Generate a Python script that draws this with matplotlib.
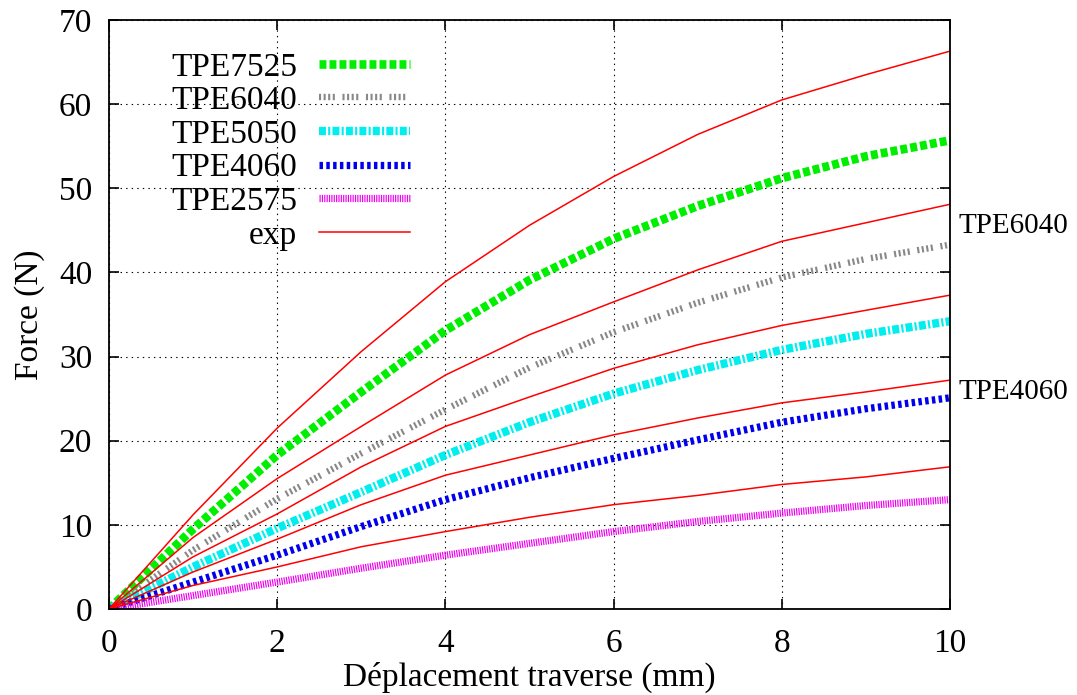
import matplotlib
matplotlib.use("Agg")
import matplotlib.pyplot as plt

plt.rcParams['font.family'] = ['Liberation Serif', 'DejaVu Serif']
plt.rcParams['lines.scale_dashes'] = False

x = [0, 1, 2, 3, 4, 5, 6, 7, 8, 9, 10]

tpe7525 = [0, 9.5, 18.3, 25.8, 33.1, 39.1, 44.0, 47.9, 51.2, 53.8, 55.7]
tpe6040 = [0, 7.0, 13.1, 18.5, 23.7, 28.7, 32.9, 36.4, 39.4, 41.6, 43.3]
tpe5050 = [0, 5.0, 9.6, 13.9, 18.3, 22.2, 25.6, 28.4, 30.8, 32.7, 34.2]
tpe4060 = [0, 3.2, 6.4, 9.8, 13.0, 15.6, 17.9, 20.1, 22.2, 23.8, 25.1]
tpe2575 = [0, 1.6, 3.2, 4.85, 6.4, 7.8, 9.2, 10.4, 11.4, 12.3, 13.0]

exp1 = [0, 11.2, 21.5, 30.6, 38.9, 45.6, 51.4, 56.4, 60.5, 63.5, 66.3]
exp2 = [0, 8.5, 15.5, 21.7, 27.8, 32.6, 36.5, 40.3, 43.7, 45.9, 48.1]
exp3 = [0, 6.2, 11.3, 16.9, 21.7, 25.2, 28.6, 31.4, 33.7, 35.5, 37.3]
exp4 = [0, 4.4, 8.3, 12.4, 15.9, 18.3, 20.7, 22.7, 24.5, 25.8, 27.2]
exp5 = [0, 2.8, 5.0, 7.4, 9.2, 10.9, 12.4, 13.5, 14.8, 15.7, 16.9]

model_labels = ['TPE7525', 'TPE6040', 'TPE5050', 'TPE4060', 'TPE2575']
right_labels = ['TPE6040', 'TPE4060']
right_label_y = [45.5, 25.8]

fig = plt.figure(figsize=(10.77, 6.95), dpi=100)
ax = fig.add_axes([109/1077, (695-609)/695, (950-109)/1077, (609-20)/695])

styles = [
    dict(color='#00ee00', lw=6.2, dashes=(5.0, 2.2)),
    dict(color='#888888', lw=4.6, dashes=(1.5, 1.8, 1.5, 1.8, 1.5, 1.8, 1.5, 5.5)),
    dict(color='#00eeee', lw=6.0, dashes=(5.0, 1.6, 1.5, 1.6)),
    dict(color='#0000ee', lw=5.2, dashes=(2.5, 2.4)),
    dict(color='#ee00ee', lw=5.2, dashes=(0.85, 0.85)),
]
models = [tpe7525, tpe6040, tpe5050, tpe4060, tpe2575]
for ys, lab, st in zip(models, model_labels, styles):
    ax.plot(x, ys, label=lab, solid_capstyle='butt', dash_capstyle='butt', **st)

for i, ys in enumerate([exp1, exp2, exp3, exp4, exp5]):
    ax.plot(x, ys, color='red', lw=1.1, label='exp' if i == 0 else None)

ax.set_xlim(0, 10)
ax.set_ylim(0, 70)
ax.set_xticks(range(0, 11, 2))
ax.set_yticks(range(0, 71, 10))
ax.grid(True, color='black', linestyle=(0, (1, 3)), linewidth=0.8)
ax.tick_params(direction='in', length=7, width=1.2, top=True, right=True,
               labelsize=24)
ax.tick_params(axis='x', pad=14)
ax.tick_params(axis='y', pad=12)
for s in ax.spines.values():
    s.set_linewidth(1.3)

ax.set_xlabel('Déplacement traverse (mm)', fontsize=24, labelpad=2)
ax.set_ylabel('Force (N)', fontsize=24, labelpad=10)

for lab, yv in zip(right_labels, right_label_y):
    ax.annotate(lab, xy=(10, yv), xytext=(6, 0), textcoords='offset points',
                ha='left', va='center', fontsize=21, annotation_clip=False)

leg = ax.legend(loc='upper right', bbox_to_anchor=((410-109)/841, 1 - (52-20)/589),
                markerfirst=False, frameon=False, fontsize=24,
                handlelength=2.73, handletextpad=0.66, labelspacing=0.095,
                borderpad=0, borderaxespad=0)

fig.savefig('out.png', dpi=100)
